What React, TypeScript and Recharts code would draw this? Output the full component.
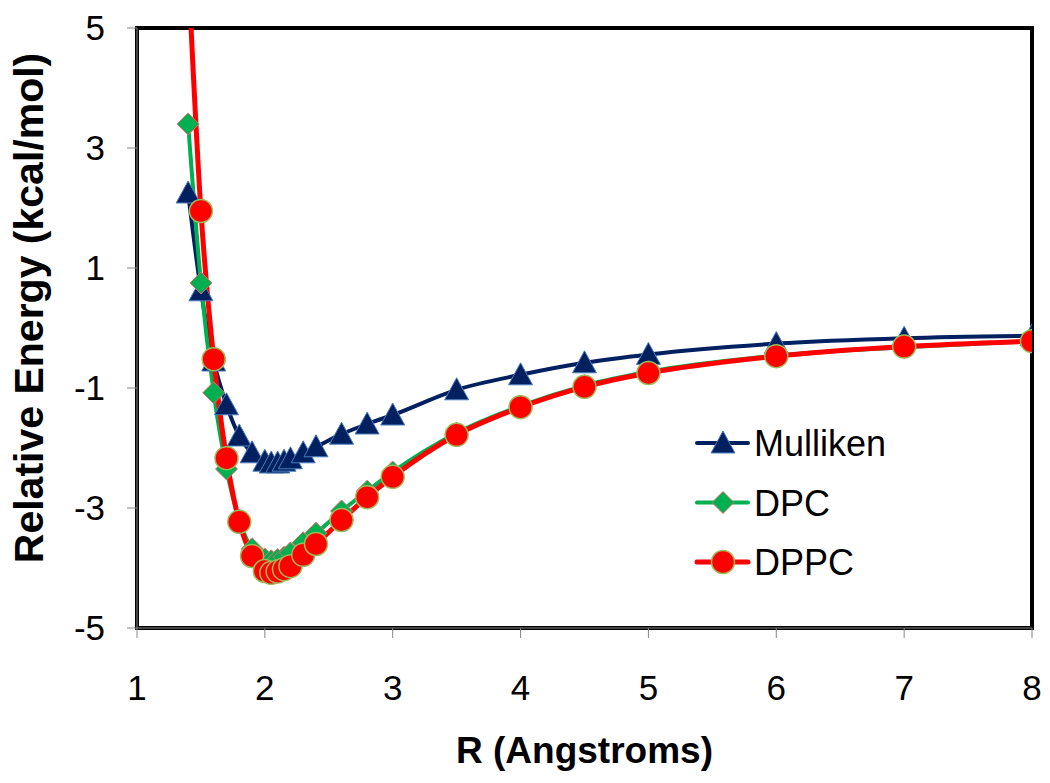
import React from 'react';
import { LineChart, Line, XAxis, YAxis, ReferenceArea, Legend } from 'recharts';

const rValues = [1.4, 1.5, 1.6, 1.7, 1.8, 1.9, 2.0, 2.05, 2.1, 2.15, 2.2, 2.3, 2.4, 2.6, 2.8, 3.0, 3.5, 4.0, 4.5, 5.0, 6.0, 7.0, 8.0];
const mulliken = [2.25, 0.62, -0.55, -1.28, -1.8, -2.08, -2.22, -2.25, -2.25, -2.22, -2.18, -2.08, -1.98, -1.77, -1.6, -1.45, -1.03, -0.78, -0.58, -0.44, -0.26, -0.17, -0.13];
const dpc = [3.4, 0.75, -1.08, -2.35, -3.2, -3.68, -3.85, -3.88, -3.86, -3.82, -3.75, -3.58, -3.42, -3.05, -2.72, -2.4, -1.75, -1.3, -0.96, -0.73, -0.46, -0.32, -0.22];
const dppc = [6.0, 1.95, -0.52, -2.17, -3.23, -3.8, -4.05, -4.08, -4.06, -4.02, -3.97, -3.78, -3.6, -3.2, -2.82, -2.48, -1.78, -1.32, -0.98, -0.75, -0.47, -0.31, -0.22];
const xTicks = [1, 2, 3, 4, 5, 6, 7, 8];
const yTicks = [-5, -3, -1, 1, 3, 5];

const data = rValues.map((r, i) => ({ r, mulliken: mulliken[i], dpc: dpc[i], dppc: dppc[i] }));

const FONT = '"Liberation Sans", Arial, Helvetica, sans-serif';

type Shape = 'triangle' | 'diamond' | 'circle';

const Marker = ({ cx, cy, shape }: { cx: number; cy: number; shape: Shape }) => {
  if (cx == null || cy == null || isNaN(cx) || isNaN(cy)) return null;
  if (shape === 'triangle') {
    return (
      <polygon
        points={`${cx},${cy - 12} ${cx + 12},${cy + 10} ${cx - 12},${cy + 10}`}
        fill="#002060"
        stroke="#4A7EBB"
        strokeWidth={1}
      />
    );
  }
  if (shape === 'diamond') {
    return (
      <polygon
        points={`${cx},${cy - 11} ${cx + 11},${cy} ${cx},${cy + 11} ${cx - 11},${cy}`}
        fill="#00B050"
        stroke="#E46C6C"
        strokeWidth={1}
      />
    );
  }
  return <circle cx={cx} cy={cy} r={11.5} fill="#FF0000" stroke="#9BBB59" strokeWidth={1.5} />;
};

const series = [
  { key: 'mulliken', name: 'Mulliken', color: '#002060', width: 4, shape: 'triangle' as Shape },
  { key: 'dpc', name: 'DPC', color: '#00B050', width: 4, shape: 'diamond' as Shape },
  { key: 'dppc', name: 'DPPC', color: '#FF0000', width: 5, shape: 'circle' as Shape },
];

const LegendContent = () => (
  <svg width={260} height={190} style={{ overflow: 'visible' }}>
    {series.map((s, i) => {
      const y = 30 + i * 59.5;
      return (
        <g key={s.key}>
          <line x1={9} x2={60} y1={y} y2={y} stroke={s.color} strokeWidth={s.width} strokeLinecap="round" />
          <Marker cx={35} cy={y} shape={s.shape} />
          <text x={66} y={y + 13} fontFamily={FONT} fontSize={36} fill="#000">
            {s.name}
          </text>
        </g>
      );
    })}
  </svg>
);

const YTitle = () => {
  const cx = 35;
  const cy = 300;
  return (
    <text
      x={cx}
      y={cy}
      textAnchor="middle"
      transform={`rotate(-90, ${cx}, ${cy})`}
      fontFamily={FONT}
      fontWeight="bold"
      fontSize={41}
      fill="#000"
    >
      Relative Energy (kcal/mol)
    </text>
  );
};

export default function App() {
  return (
    <div style={{ width: 1042, height: 775, fontFamily: FONT }}>
      <LineChart width={1042} height={775} data={data} margin={{ top: 20, right: 18, bottom: 20, left: 0 }}>
        <ReferenceArea x1={1} x2={8} y1={-5} y2={5} fill="none" stroke="#000" strokeWidth={4} />
        <XAxis
          dataKey="r"
          type="number"
          domain={[1, 8]}
          ticks={xTicks}
          allowDataOverflow
          height={135}
          tickSize={10}
          tickMargin={37}
          stroke="#878787"
          tick={{ fill: '#000', fontSize: 35, fontFamily: FONT }}
          label={{ value: 'R (Angstroms)', position: 'insideBottom', offset: 0, fontSize: 37, fontWeight: 'bold', fill: '#000', fontFamily: FONT }}
        />
        <YAxis
          type="number"
          domain={[-5, 5]}
          ticks={yTicks}
          allowDataOverflow
          width={129}
          tickSize={10}
          tickMargin={22}
          stroke="#878787"
          tick={{ fill: '#000', fontSize: 35, fontFamily: FONT }}
          label={{ content: () => <YTitle /> }}
        />
        {series.map((s) => (
          <Line
            key={s.key}
            dataKey={s.key}
            name={s.name}
            type="monotone"
            stroke={s.color}
            strokeWidth={s.width}
            isAnimationActive={false}
            dot={(p: any) => <Marker key={`${s.key}-${p.index}`} cx={p.cx} cy={p.cy} shape={s.shape} />}
            activeDot={false}
          />
        ))}
        <Legend
          layout="vertical"
          align="center"
          verticalAlign="middle"
          content={() => <LegendContent />}
          wrapperStyle={{ position: 'absolute', left: 680, top: 405, width: 260, height: 190 }}
        />
      </LineChart>
    </div>
  );
}
